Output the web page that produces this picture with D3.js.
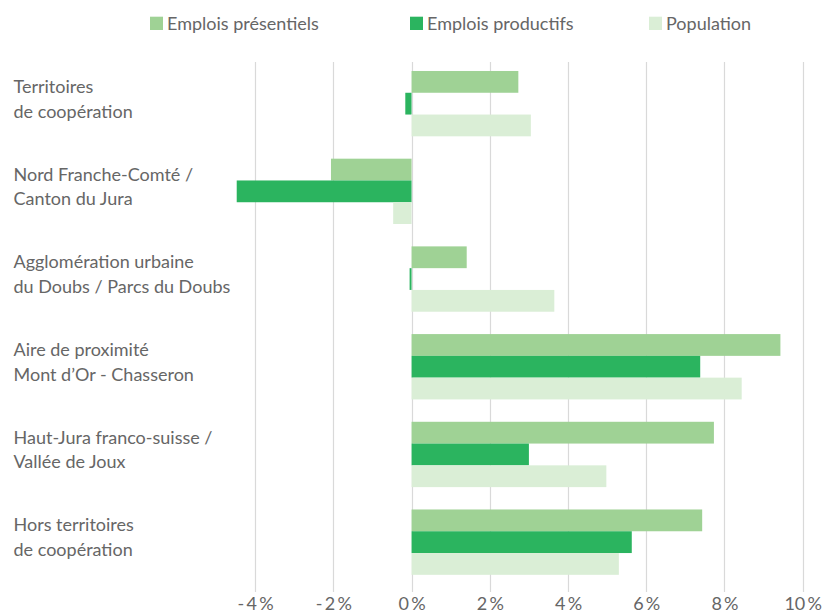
<!DOCTYPE html>
<html>
<head>
<meta charset="utf-8">
<script src="https://cdn.jsdelivr.net/npm/d3@7"></script>
<style>
  html, body { margin: 0; padding: 0; background: #fff; }
  svg { display: block; font-family: Lato, "Open Sans", sans-serif; font-weight: 400; }
</style>
</head>
<body>
<svg id="chart" width="829" height="614"></svg>
<script>
// ---- Data ----
const categories = [
  ["Territoires", "de coopération"],
  ["Nord Franche-Comté /", "Canton du Jura"],
  ["Agglomération urbaine", "du Doubs / Parcs du Doubs"],
  ["Aire de proximité", "Mont d’Or - Chasseron"],
  ["Haut-Jura franco-suisse /", "Vallée de Joux"],
  ["Hors territoires", "de coopération"]
];
const seriesNames = ["Emplois présentiels", "Emplois productifs", "Population"];
const emploisPresentiels = [2.73, -2.06, 1.41, 9.43, 7.73, 7.43];
const emploisProductifs  = [-0.16, -4.47, -0.05, 7.38, 3.00, 5.63];
const population         = [3.05, -0.47, 3.65, 8.44, 4.98, 5.30];
const tickValues = [-4, -2, 0, 2, 4, 6, 8, 10];
const tickLabels = ["-\u20094\u2009%", "-\u20092\u2009%", "0\u2009%", "2\u2009%", "4\u2009%", "6\u2009%", "8\u2009%", "10\u2009%"];

// ---- Styles / layout ----
const colors = ["#9fd295", "#2bb45f", "#daeed6"];
const textColor = "#666666";
const gridColor = "#d9d9d9";
const fontSize = 18;

const seriesValues = [emploisPresentiels, emploisProductifs, population];
const rows = categories.map((c, i) => ({
  key: i, label: c,
  values: seriesNames.map((s, j) => ({ series: s, idx: j, value: seriesValues[j][i] }))
}));

const svg = d3.select("#chart");

const x = d3.scaleLinear().domain([-4, 10]).range([255.1, 802.7]);
const y = d3.scaleBand().domain(rows.map(r => r.key)).range([59.8, 586])
  .paddingInner(0.255).paddingOuter(0.1275);
const ySub = d3.scaleBand().domain(seriesNames).range([0, y.bandwidth()]).padding(0);

// gridlines
svg.append("g").selectAll("line").data(tickValues).join("line")
  .attr("x1", d => Math.round(x(d)) + 0.5).attr("x2", d => Math.round(x(d)) + 0.5)
  .attr("y1", 62).attr("y2", 592)
  .attr("stroke", gridColor).attr("stroke-width", 1.2);

// bars
const groups = svg.append("g").selectAll("g").data(rows).join("g")
  .attr("transform", d => `translate(0,${y(d.key)})`);
groups.selectAll("rect").data(d => d.values).join("rect")
  .attr("x", d => x(Math.min(0, d.value)))
  .attr("width", d => Math.abs(x(d.value) - x(0)))
  .attr("y", d => ySub(d.series))
  .attr("height", ySub.bandwidth())
  .attr("fill", d => colors[d.idx]);

// category labels
const lab = svg.append("g").selectAll("text").data(rows).join("text")
  .attr("x", 13.5)
  .attr("y", d => y(d.key) + 22)
  .attr("fill", textColor)
  .attr("font-size", fontSize);
lab.selectAll("tspan").data(d => d.label).join("tspan")
  .attr("x", 13.5)
  .attr("dy", (d, i) => i === 0 ? 0 : 24.6)
  .text(d => d);

// x axis tick labels
const axis = d3.axisBottom(x).tickValues(tickValues)
  .tickFormat((d, i) => tickLabels[i]).tickSize(0).tickPadding(0);
const ax = svg.append("g").attr("transform", "translate(0,609.5)").call(axis);
ax.select(".domain").remove();
ax.selectAll("text").attr("font-size", fontSize).attr("fill", textColor)
  .attr("font-family", "Lato, 'Open Sans', sans-serif")
  .attr("font-weight", 400)
  .attr("dy", 0).attr("y", 0);

// legend
const legendX = [150, 410, 649];
const leg = svg.append("g").selectAll("g").data(seriesNames).join("g")
  .attr("transform", (d, i) => `translate(${legendX[i]},0)`);
leg.append("rect").attr("x", 0).attr("y", 16.7).attr("width", 13).attr("height", 13.3)
  .attr("fill", (d, i) => colors[i]);
leg.append("text").attr("x", 17).attr("y", 30.2)
  .attr("fill", textColor).attr("font-size", fontSize)
  .text(d => d);
</script>
</body>
</html>
